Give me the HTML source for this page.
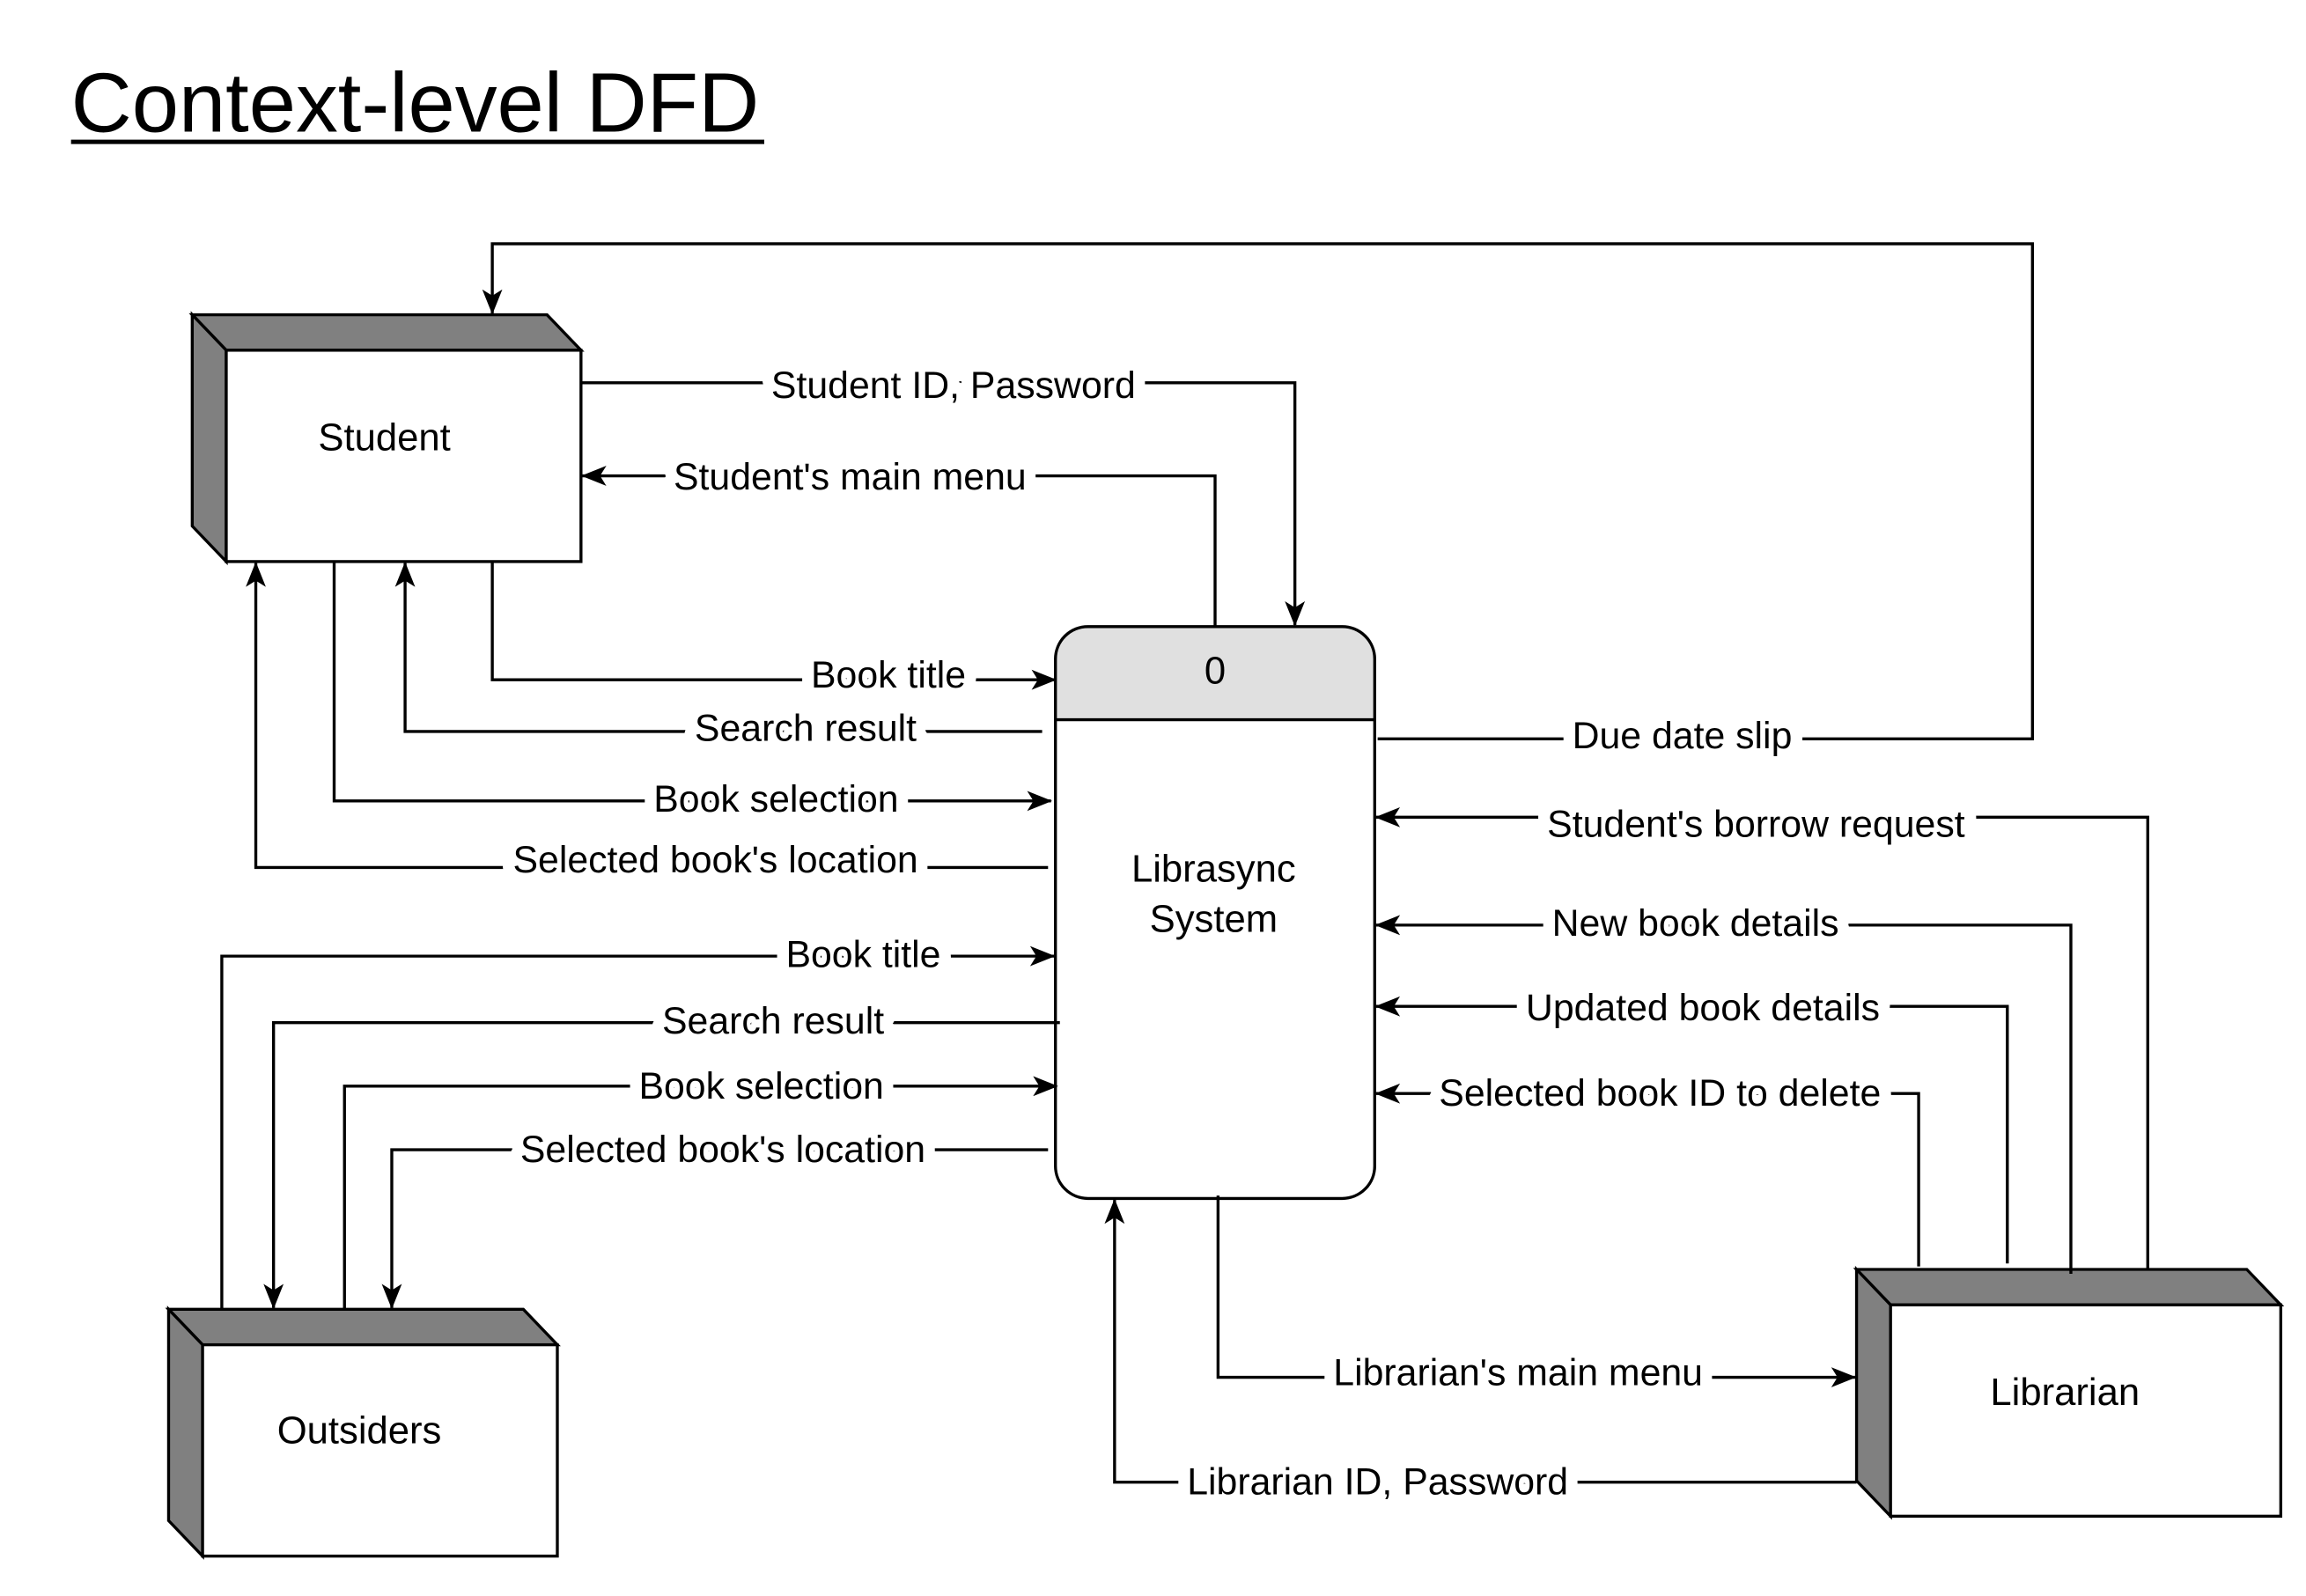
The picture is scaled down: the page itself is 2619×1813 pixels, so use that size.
<!DOCTYPE html>
<html><head><meta charset="utf-8"><style>
html,body{margin:0;padding:0;background:#fff;}
svg{display:block;}
text{font-family:"Liberation Sans",Arial,sans-serif;}
.l{font-size:25.5px;text-anchor:middle;dominant-baseline:central;paint-order:stroke;stroke:#fff;stroke-width:16px;stroke-linejoin:round;fill:#000;}
.w{fill:none;stroke:#000;stroke-width:2;}
</style></head><body>
<svg width="2619" height="1813" viewBox="0 0 1560 1080" xmlns="http://www.w3.org/2000/svg">
<defs>
<marker id="a" viewBox="0 0 20 20" refX="19" refY="10" markerWidth="17" markerHeight="17" markerUnits="userSpaceOnUse" orient="auto">
<path d="M0,2 L20,10 L0,18 L5,10 Z" fill="#000"/>
</marker>
</defs>
<rect width="1560" height="1080" fill="#fff"/>
<text x="48" y="89" font-size="57" fill="#000">Context-level DFD</text>
<line x1="48" y1="96" x2="517" y2="96" stroke="#000" stroke-width="3"/>

<polygon points="130,213 370,213 393,237 153,237" fill="#808080" stroke="#000" stroke-width="2"/>
<polygon points="130,213 153,237 153,380 130,356" fill="#808080" stroke="#000" stroke-width="2"/>
<rect x="153" y="237" width="240" height="143" fill="#fff" stroke="#000" stroke-width="2"/>
<text x="260" y="296" font-size="26" text-anchor="middle" dominant-baseline="central">Student</text>

<polygon points="114,886 354,886 377,910 137,910" fill="#808080" stroke="#000" stroke-width="2"/>
<polygon points="114,886 137,910 137,1053 114,1029" fill="#808080" stroke="#000" stroke-width="2"/>
<rect x="137" y="910" width="240" height="143" fill="#fff" stroke="#000" stroke-width="2"/>
<text x="243" y="968" font-size="26" text-anchor="middle" dominant-baseline="central">Outsiders</text>

<polygon points="1256,859 1520,859 1543,883 1279,883" fill="#808080" stroke="#000" stroke-width="2"/>
<polygon points="1256,859 1279,883 1279,1026 1256,1002" fill="#808080" stroke="#000" stroke-width="2"/>
<rect x="1279" y="883" width="264" height="143" fill="#fff" stroke="#000" stroke-width="2"/>
<text x="1397" y="942" font-size="26" text-anchor="middle" dominant-baseline="central">Librarian</text>

<path d="M714,487 L714,446 Q714,424 736,424 L908,424 Q930,424 930,446 L930,487 Z" fill="#e0e0e0"/>
<rect x="714" y="424" width="216" height="387" rx="22" fill="none" stroke="#000" stroke-width="2"/>
<line x1="714" y1="487" x2="930" y2="487" stroke="#000" stroke-width="2"/>
<text x="822" y="454" font-size="26" text-anchor="middle" dominant-baseline="central">0</text>
<text x="821" y="588" font-size="26" text-anchor="middle" dominant-baseline="central">Librasync</text>
<text x="821" y="622" font-size="26" text-anchor="middle" dominant-baseline="central">System</text>

<polyline class="w" points="932,500 1375,500 1375,165 333,165 333,212" marker-end="url(#a)"/>
<polyline class="w" points="393,259 876,259 876,423" marker-end="url(#a)"/>
<polyline class="w" points="822,424 822,322 394,322" marker-end="url(#a)"/>
<polyline class="w" points="333,380 333,460 714,460" marker-end="url(#a)"/>
<polyline class="w" points="705,495 274,495 274,381" marker-end="url(#a)"/>
<polyline class="w" points="226,380 226,542 711,542" marker-end="url(#a)"/>
<polyline class="w" points="709,587 173,587 173,381" marker-end="url(#a)"/>
<polyline class="w" points="150,886 150,647 713,647" marker-end="url(#a)"/>
<polyline class="w" points="717,692 185,692 185,885" marker-end="url(#a)"/>
<polyline class="w" points="233,886 233,735 715,735" marker-end="url(#a)"/>
<polyline class="w" points="709,778 265,778 265,885" marker-end="url(#a)"/>
<polyline class="w" points="1453,859 1453,553 931,553" marker-end="url(#a)"/>
<polyline class="w" points="1401,862 1401,626 931,626" marker-end="url(#a)"/>
<polyline class="w" points="1358,855 1358,681 931,681" marker-end="url(#a)"/>
<polyline class="w" points="1298,857 1298,740 931,740" marker-end="url(#a)"/>
<polyline class="w" points="824,809 824,932 1255,932" marker-end="url(#a)"/>
<polyline class="w" points="1256,1003 754,1003 754,812" marker-end="url(#a)"/>

<text class="l" x="1138" y="498">Due date slip</text>
<text class="l" x="645" y="261">Student ID, Password</text>
<text class="l" x="575" y="323">Student's main menu</text>
<text class="l" x="601" y="457">Book title</text>
<text class="l" x="545" y="493">Search result</text>
<text class="l" x="525" y="541">Book selection</text>
<text class="l" x="484" y="582">Selected book's location</text>
<text class="l" x="584" y="646">Book title</text>
<text class="l" x="523" y="691">Search result</text>
<text class="l" x="515" y="735">Book selection</text>
<text class="l" x="489" y="778">Selected book's location</text>
<text class="l" x="1188" y="558">Student's borrow request</text>
<text class="l" x="1147" y="625">New book details</text>
<text class="l" x="1152" y="682">Updated book details</text>
<text class="l" x="1123" y="740">Selected book ID to delete</text>
<text class="l" x="1027" y="929">Librarian's main menu</text>
<text class="l" x="932" y="1003">Librarian ID, Password</text>
</svg>
</body></html>
